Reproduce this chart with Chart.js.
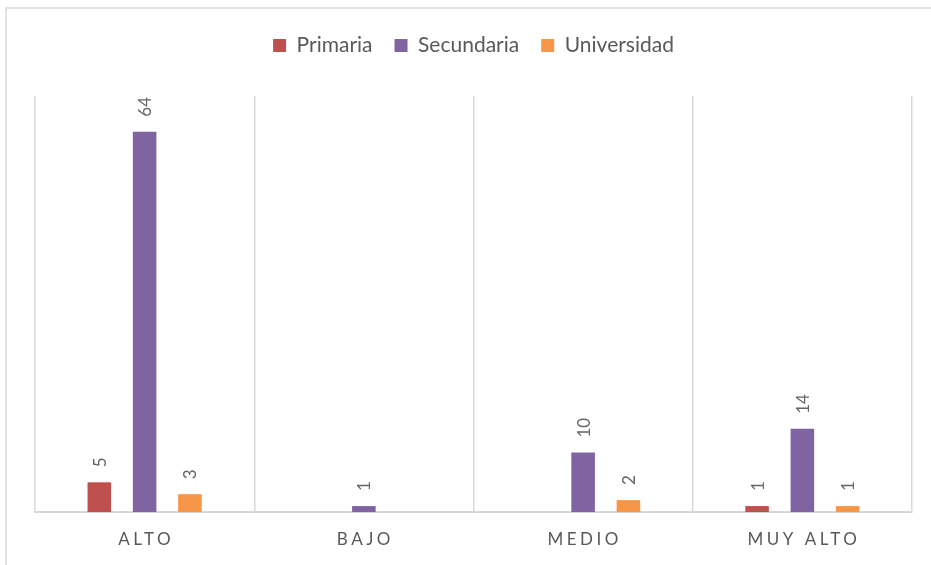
<!DOCTYPE html>
<html>
<head>
<meta charset="utf-8">
<script src="https://cdn.jsdelivr.net/npm/chart.js@4"></script>
<style>
  html, body { margin: 0; padding: 0; background: #fff; overflow: hidden; }
  #wrap { position: relative; width: 931px; height: 565px; }
  #frame { position: absolute; left: 5px; top: 7px; width: 960px; height: 600px; border: 2px solid #e3e3e3; box-sizing: border-box; }
  canvas { position: absolute; left: 0; top: 0; }
</style>
</head>
<body>
<div id="wrap">
  <div id="frame"></div>
  <canvas id="chart" width="931" height="565"></canvas>
</div>
<script>
  const categories = ["ALTO", "BAJO", "MEDIO", "MUY ALTO"];
  const primaria = [5, null, null, 1];
  const secundaria = [64, 1, 10, 14];
  const universidad = [3, null, 2, 1];

  const FONT = "Lato, 'Open Sans', sans-serif";
  const GRAY = "#595959";

  // rotated value labels above each bar
  const barLabels = {
    id: "barLabels",
    afterDatasetsDraw(chart) {
      const ctx = chart.ctx;
      chart.data.datasets.forEach((ds, i) => {
        const meta = chart.getDatasetMeta(i);
        meta.data.forEach((bar, j) => {
          const v = ds.data[j];
          if (v == null) return;
          ctx.save();
          ctx.translate(bar.x, bar.y - 15);
          ctx.rotate(-Math.PI / 2);
          ctx.font = "17px " + FONT;
          ctx.fillStyle = "#666";
          ctx.textAlign = "left";
          ctx.textBaseline = "middle";
          ctx.fillText(String(v), 0, 1);
          ctx.restore();
        });
      });
    }
  };

  // letter-spaced category labels under the axis
  const catLabels = {
    id: "catLabels",
    afterDraw(chart) {
      const ctx = chart.ctx;
      const x = chart.scales.x;
      ctx.save();
      ctx.font = "17px " + FONT;
      ctx.fillStyle = GRAY;
      ctx.textAlign = "center";
      ctx.textBaseline = "middle";
      ctx.letterSpacing = "3.5px";
      categories.forEach((c, i) => {
        ctx.fillText(c, x.getPixelForValue(i) + 1.5, 540);
      });
      ctx.restore();
    }
  };

  const legendGap = {
    id: "legendGap",
    beforeInit(chart) {
      const fit = chart.legend.fit;
      chart.legend.fit = function () {
        fit.bind(chart.legend)();
        this.height += 30;
      };
    }
  };

  new Chart(document.getElementById("chart"), {
    type: "bar",
    data: {
      labels: categories,
      datasets: [
        { label: "Primaria", data: primaria, backgroundColor: "#C0504D" },
        { label: "Secundaria", data: secundaria, backgroundColor: "#8064A2" },
        { label: "Universidad", data: universidad, backgroundColor: "#F79646" }
      ]
    },
    options: {
      responsive: false,
      animation: false,
      layout: { padding: { left: 35, right: 19, top: 13, bottom: 53 } },
      datasets: { bar: { categoryPercentage: 0.62, barPercentage: 0.52 } },
      plugins: {
        legend: {
          position: "top",
          labels: {
            boxWidth: 13, boxHeight: 13, padding: 22,
            color: GRAY, font: { size: 21, family: FONT }
          }
        },
        tooltip: { enabled: false }
      },
      scales: {
        x: {
          offset: true,
          ticks: { display: false },
          grid: { offset: true, color: "#d9d9d9", lineWidth: 1.5, drawTicks: false },
          border: { color: "#d9d9d9", width: 2 }
        },
        y: { display: false, min: 0, max: 70 }
      }
    },
    plugins: [barLabels, catLabels, legendGap]
  });
</script>
</body>
</html>
